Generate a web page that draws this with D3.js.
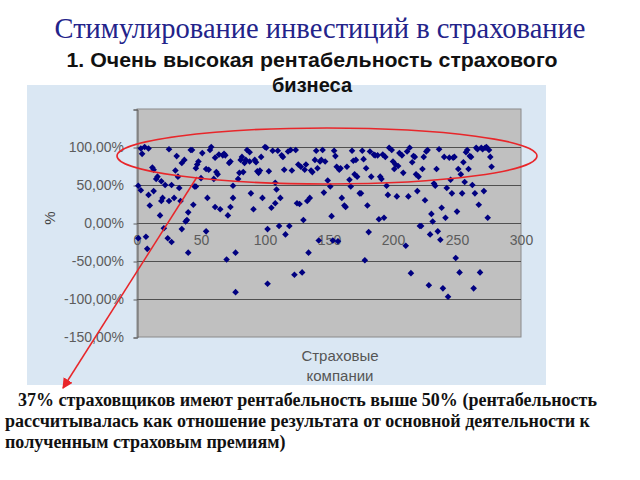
<!DOCTYPE html>
<html>
<head>
<meta charset="utf-8">
<script src="https://cdn.jsdelivr.net/npm/d3@7"></script>
<style>
body { margin: 0; background: #ffffff; }
svg { display: block; }
</style>
</head>
<body>
<div id="chart"></div>
<script>
var title = "Стимулирование инвестиций в страхование";
var subtitle = ["1. Очень высокая рентабельность страхового", "бизнеса"];
var xTitle = ["Страховые", "компании"];
var yTitle = "%";
var note = [
    "37% страховщиков  имеют рентабельность выше 50% (рентабельность",
    "рассчитывалась как отношение результата от основной деятельности к",
    "полученным страховым премиям)"
];
var xTicks = [0, 50, 100, 150, 200, 250, 300];
var yTicks = [-150, -100, -50, 0, 50, 100];
var yLabels = ["-150,00%", "-100,00%", "-50,00%", "0,00%", "50,00%", "100,00%"];

// company number, profitability %
var company = [1, 3, 1, 3, 4, 6, 9, 7, 8, 9, 10, 12, 13, 13, 15, 16, 18, 19, 19, 20,
    21, 22, 24, 25, 25, 27, 27, 29, 30, 31, 32, 33, 34, 35, 35, 37, 38, 39, 40, 40,
    42, 43, 44, 45, 46, 46, 47, 48, 50, 51, 54, 55, 54, 56, 57, 58, 60, 61, 62, 63,
    61, 64, 65, 67, 68, 69, 70, 71, 72, 73, 73, 75, 75, 77, 77, 79, 80, 81, 82, 83,
    84, 85, 86, 88, 88, 89, 91, 92, 93, 94, 95, 96, 97, 98, 100, 101, 102, 102, 103, 105,
    106, 108, 108, 109, 110, 111, 112, 113, 114, 115, 116, 118, 120, 119, 121, 123, 124, 125, 127, 126,
    128, 129, 130, 131, 132, 133, 134, 135, 136, 137, 139, 140, 141, 142, 143, 144, 145, 146, 147, 149,
    151, 152, 153, 154, 155, 156, 157, 158, 159, 160, 162, 163, 164, 166, 167, 168, 169, 170, 171, 172,
    174, 175, 176, 177, 178, 179, 180, 181, 182, 183, 185, 186, 188, 190, 191, 189, 193, 192, 194, 195,
    196, 197, 199, 200, 201, 202, 203, 204, 205, 207, 208, 210, 211, 212, 213, 214, 215, 216, 217, 218,
    219, 220, 221, 222, 223, 224, 225, 226, 227, 228, 229, 230, 231, 232, 233, 234, 235, 236, 237, 238,
    239, 240, 241, 242, 243, 244, 245, 246, 247, 248, 249, 250, 251, 252, 253, 254, 255, 256, 257, 258,
    259, 260, 261, 262, 263, 264, 265, 266, 267, 268, 269, 270, 271, 272, 273, 274, 275, 276, 277];
var profit = [49, 43, -20, 98, 91, 100, 98, -18, -34, 37, 23, 73, 70, 42, 58, 61, 10, 55, 29, 33,
    -7, 50, -20, 29, 97, -25, 50, 33, 69, 88, 61, 46, 29, -8, 79, 83, 2, 4, -39, 14,
    96, 96, 24, 48, 48, 72, 77, 81, 59, 92, -11, 33, 71, 70, 96, 100, 58, 21, 67, 64,
    86, 90, 18, 89, 91, 89, -48, 10, 79, 81, 21, 49, 33, -39, -91, 58, 66, 83, 87, 67,
    79, 83, 96, 93, 81, 39, 18, 83, 80, 68, 66, 69, 87, 33, 100, 99, -8, -80, 68, 20,
    95, 26, 53, 44, 95, -4, 33, 89, 87, 70, -15, 94, 96, -4, 69, -68, 96, 26, 25, 77,
    74, -65, 4, 70, 77, 29, -39, 33, 69, 67, 83, 95, 72, -23, 81, 83, 96, 40, 81, 56,
    48, 9, -23, 95, 88, 74, -24, 70, 72, 33, 23, 21, 74, 57, 48, 95, 82, 64, 83, 61,
    39, 39, 95, 84, -49, 72, 23, -12, 94, 61, 90, 89, 89, 61, 58, 5, 7, 90, 87, 49,
    37, 99, 96, 81, 71, 77, 35, 75, 92, 89, 66, -30, 94, 35, 99, -66, 80, 88, 87, 64,
    42, 61, -4, -4, 71, 87, 30, 94, 96, -82, -15, 12, 2, 52, 49, 71, -11, 97, -22, 20,
    -86, 87, 7, 46, -97, 86, 57, 39, 86, 87, -46, 15, 71, -65, 64, 39, 80, 54, 93, 96,
    71, 88, 87, 50, -86, 39, 99, 97, 24, -65, 99, 97, 42, 99, 100, 7, 96, 87, 74];

var width = 640, height = 480;
var plot = {left: 137, right: 521, top: 109, bottom: 337};

var svg = d3.select("#chart").append("svg")
    .attr("width", width)
    .attr("height", height);

var x = d3.scaleLinear().domain([0, 300]).range([plot.left, plot.right]);
var y = d3.scaleLinear().domain([-150, 150]).range([plot.bottom, plot.top]);

// light blue chart background
svg.append("rect")
    .attr("x", 27).attr("y", 85)
    .attr("width", 519).attr("height", 300)
    .attr("fill", "#dae7f3");

svg.append("rect")
    .attr("x", plot.left).attr("y", plot.top)
    .attr("width", plot.right - plot.left).attr("height", plot.bottom - plot.top)
    .attr("fill", "#c0c0c0")
    .attr("stroke", "#8a8a8a");

svg.append("g")
    .selectAll("line")
    .data(yTicks.filter(d => d > -150))
    .join("line")
    .attr("x1", plot.left).attr("x2", plot.right)
    .attr("y1", d => y(d) + 0.5).attr("y2", d => y(d) + 0.5)
    .attr("stroke", "#505050")
    .attr("stroke-width", 1);

var yAxis = svg.append("g")
    .attr("transform", "translate(" + (plot.left + 0.5) + ",0.5)")
    .call(d3.axisLeft(y).tickValues([-150, -100, -50, 0, 50, 100, 150]).tickSize(4).tickFormat(""));
yAxis.selectAll("line, path").attr("stroke", "#606060");

svg.append("g")
    .selectAll("text")
    .data(yTicks)
    .join("text")
    .attr("x", 124)
    .attr("y", d => y(d) + 5)
    .attr("text-anchor", "end")
    .attr("font-family", "Liberation Sans, Arial, sans-serif")
    .attr("font-size", 14)
    .attr("fill", "#5c5c5c")
    .text((d, i) => yLabels[i]);

var xAxis = svg.append("g")
    .attr("transform", "translate(0," + (y(0) + 0.5) + ")")
    .call(d3.axisBottom(x).tickValues(xTicks).tickSize(0).tickPadding(12));
xAxis.select("path").remove();
xAxis.selectAll("text")
    .attr("font-family", "Liberation Sans, Arial, sans-serif")
    .attr("font-size", 14)
    .attr("fill", "#5c5c5c");

svg.append("text")
    .attr("transform", "translate(55,218) rotate(-90)")
    .attr("text-anchor", "middle")
    .attr("font-family", "Liberation Sans, Arial, sans-serif")
    .attr("font-size", 15)
    .attr("fill", "#444")
    .text(yTitle);

svg.append("g")
    .selectAll("text")
    .data(xTitle)
    .join("text")
    .attr("x", 340)
    .attr("y", (d, i) => 361 + i * 20)
    .attr("text-anchor", "middle")
    .attr("font-family", "Liberation Sans, Arial, sans-serif")
    .attr("font-size", 15)
    .attr("fill", "#555")
    .text(d => d);

svg.append("g")
    .selectAll("path")
    .data(company)
    .join("path")
    .attr("transform", (d, i) => "translate(" + x(d) + "," + y(profit[i]) + ")")
    .attr("d", "M0,-3.3L3.3,0L0,3.3L-3.3,0Z")
    .attr("fill", "#000080");

svg.append("text")
    .attr("x", 320).attr("y", 38)
    .attr("text-anchor", "middle")
    .attr("font-family", "Liberation Serif, Times New Roman, serif")
    .attr("font-size", 28.5)
    .attr("fill", "#23238a")
    .text(title);

svg.append("g")
    .selectAll("text")
    .data(subtitle)
    .join("text")
    .attr("x", 312)
    .attr("y", (d, i) => 67 + i * 25)
    .attr("text-anchor", "middle")
    .attr("textLength", (d, i) => i == 0 ? 491 : null)
    .attr("lengthAdjust", "spacingAndGlyphs")
    .attr("font-family", "Liberation Sans, Arial, sans-serif")
    .attr("font-weight", "bold")
    .attr("font-size", 20)
    .attr("fill", "#111")
    .text(d => d);

// red ellipse and arrow
svg.append("ellipse")
    .attr("cx", 327).attr("cy", 156)
    .attr("rx", 210).attr("ry", 28)
    .attr("fill", "none")
    .attr("stroke", "#e8262a")
    .attr("stroke-width", 1.6);

svg.append("defs").append("marker")
    .attr("id", "head")
    .attr("viewBox", "0 0 10 10")
    .attr("refX", 9).attr("refY", 5)
    .attr("markerWidth", 7).attr("markerHeight", 7)
    .attr("orient", "auto")
    .append("path")
    .attr("d", "M0,0L10,5L0,10Z")
    .attr("fill", "#e8262a");

svg.append("line")
    .attr("x1", 197).attr("y1", 177)
    .attr("x2", 63).attr("y2", 388)
    .attr("stroke", "#e8262a")
    .attr("stroke-width", 1.5)
    .attr("marker-end", "url(#head)");

var noteX = [18, 5, 5];
var noteLen = [579, 585, null];
svg.append("g")
    .selectAll("text")
    .data(note)
    .join("text")
    .attr("x", (d, i) => noteX[i])
    .attr("y", (d, i) => 406 + i * 21)
    .attr("textLength", (d, i) => noteLen[i])
    .attr("lengthAdjust", "spacingAndGlyphs")
    .attr("font-family", "Liberation Serif, Times New Roman, serif")
    .attr("font-weight", "bold")
    .attr("font-size", 18)
    .attr("fill", "#111")
    .text(d => d);
</script>
</body>
</html>
